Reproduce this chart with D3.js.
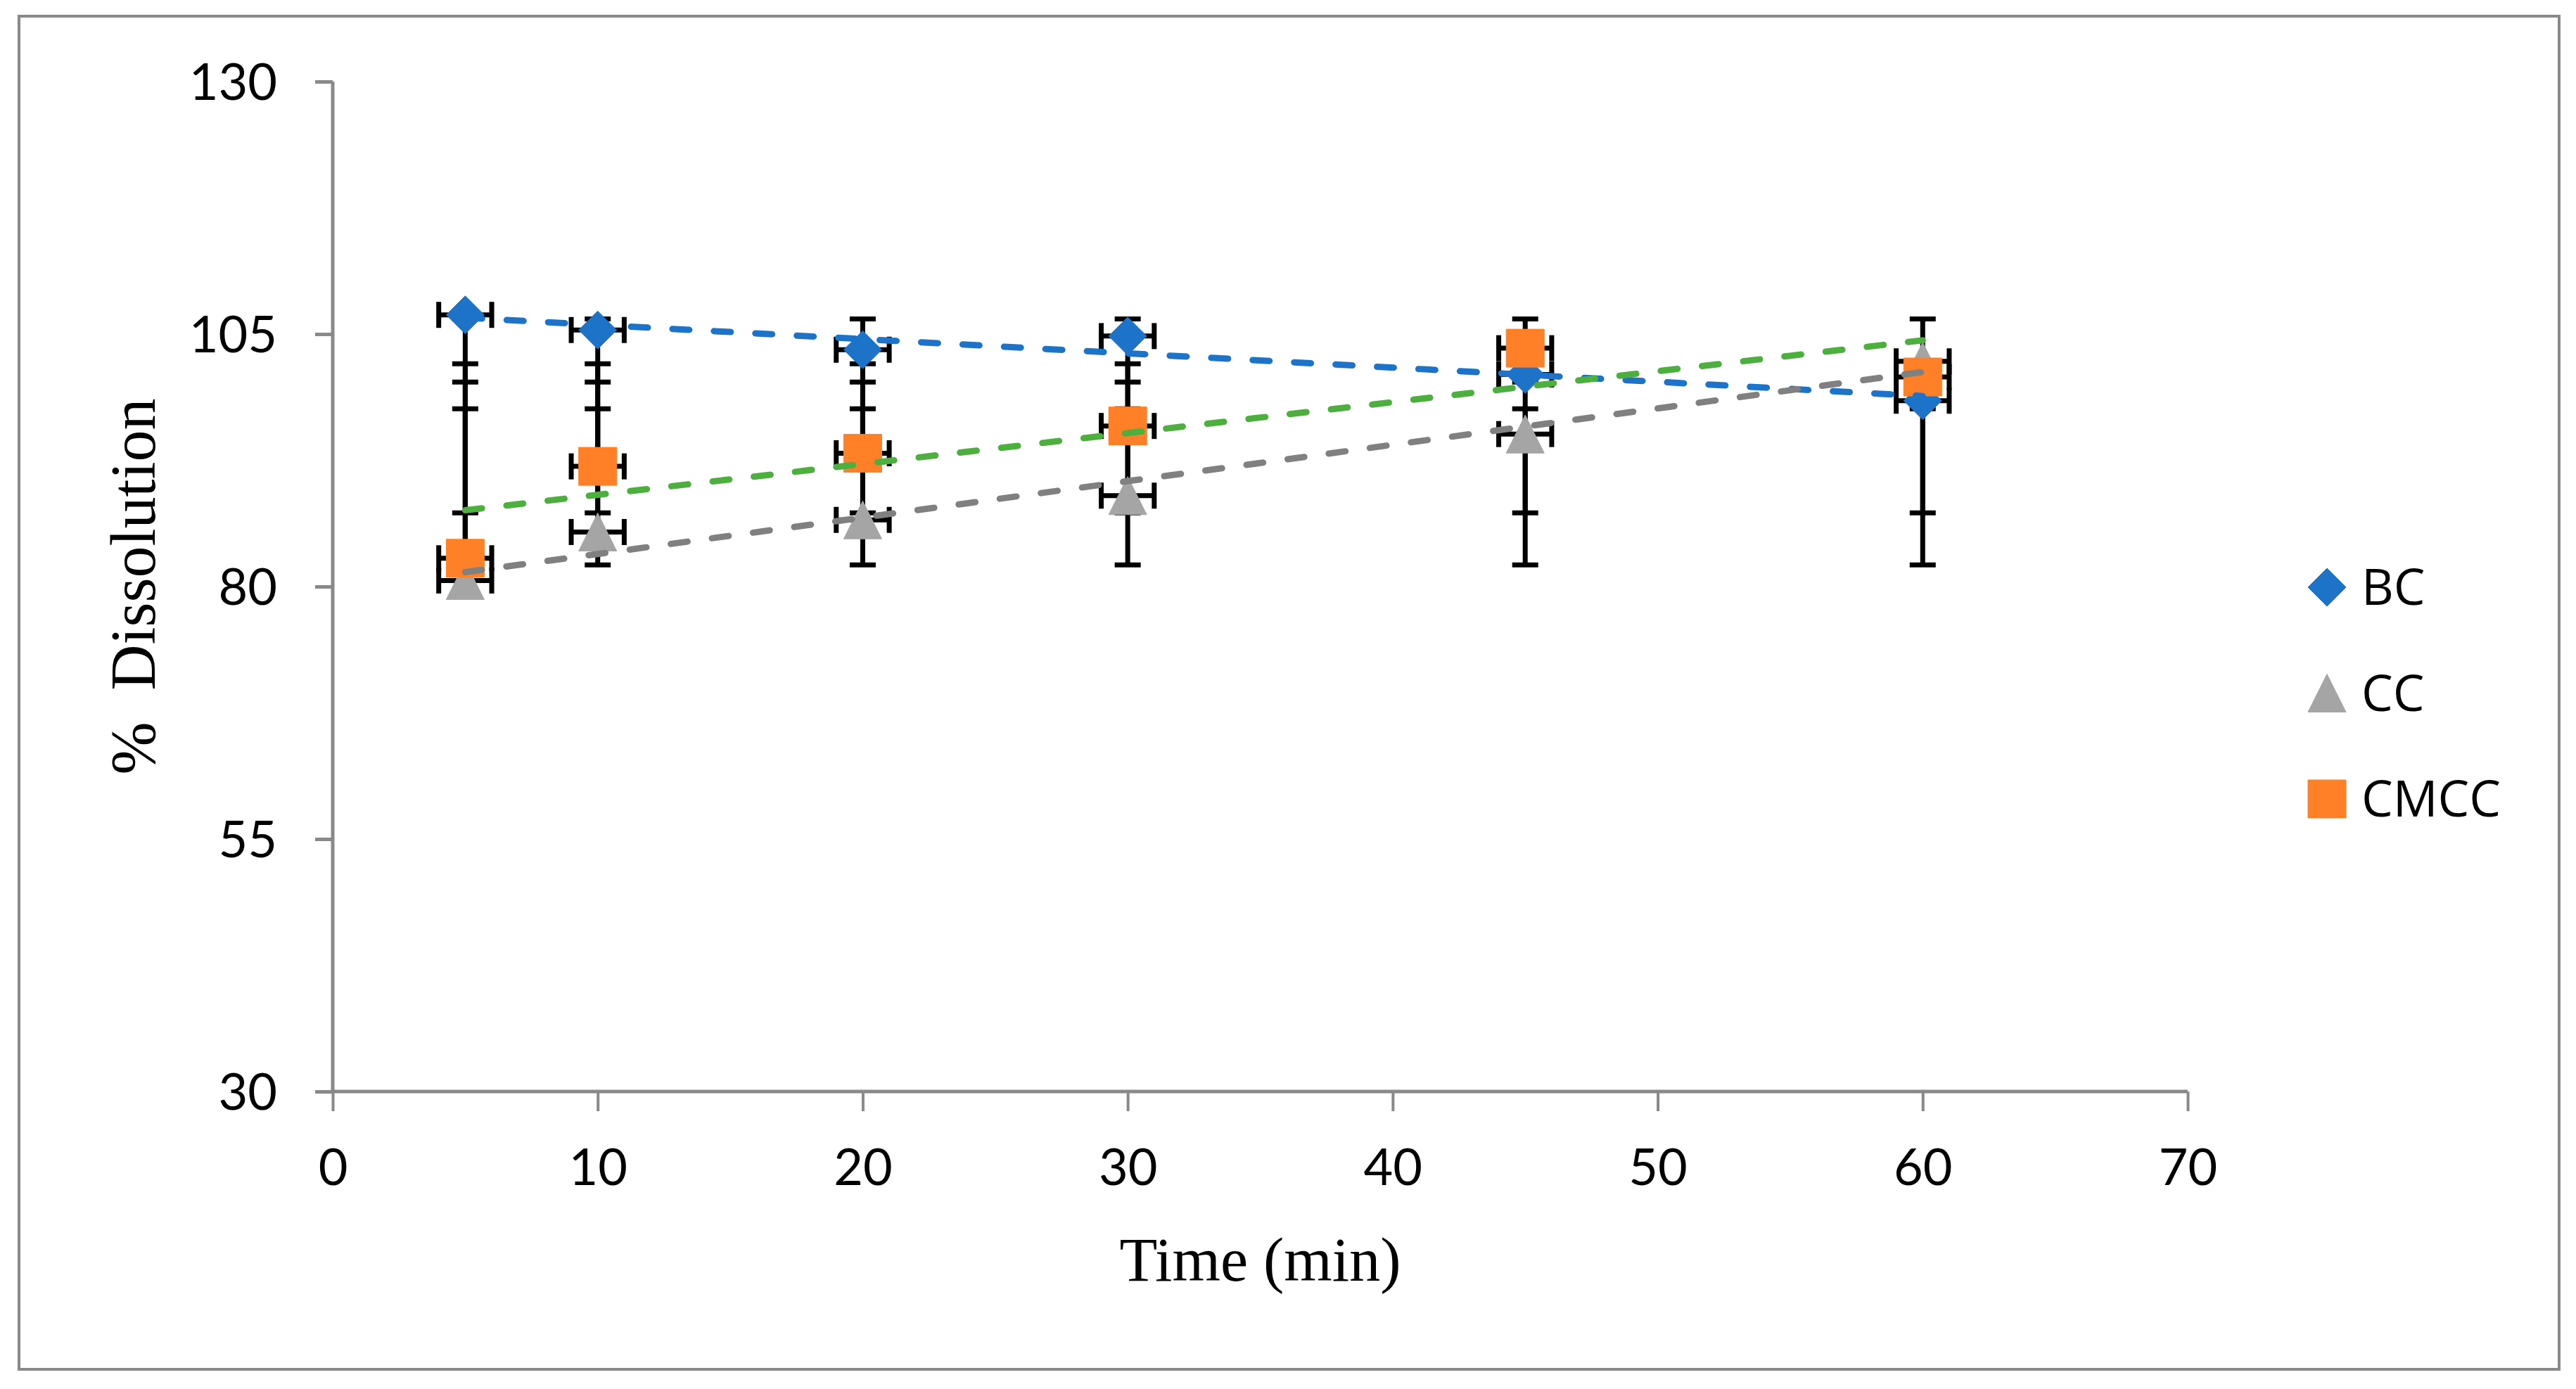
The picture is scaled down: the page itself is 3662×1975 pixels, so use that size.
<!DOCTYPE html>
<html>
<head>
<meta charset="utf-8">
<script src="https://cdn.jsdelivr.net/npm/d3@7"></script>
<style>
  html, body { margin: 0; padding: 0; background: #ffffff; }
  svg { display: block; }
</style>
</head>
<body>
<script>
// ---------------- data ----------------
const times = [5, 10, 20, 30, 45, 60];
const seriesNames = ["BC", "CC", "CMCC"];
const bcValues   = [106.9, 105.4, 103.45, 104.8, 101.0, 98.4];
const ccValues   = [80.6, 85.4, 86.6, 89.0, 95.1, 102.3];
const cmccValues = [82.8, 91.9, 93.2, 95.9, 103.6, 100.75];
// horizontal (time) error, minutes
const timeError = 1;
// vertical error bar extents (absolute % values)
const bcErrLow    = [82.15, 82.15, 82.15, 82.15, 82.15, 82.15];
const bcErrHigh   = [106.5, 106.5, 106.5, 106.5, 106.5, 106.5];
const ccErrLow    = [87.3, 87.3, 87.3, 87.3, 87.3, 87.3];
const ccErrHigh   = [97.6, 97.6, 97.6, 97.6, 97.6, 97.6];
const cmccErrLow  = [100.25, 100.25, 100.25, 100.25, 100.25, 100.25];
const cmccErrHigh = [102.05, 102.05, 102.05, 102.05, 102.05, 102.05];
const xTickValues = [0, 10, 20, 30, 40, 50, 60, 70];
const yTickValues = [30, 55, 80, 105, 130];
const xTitle = "Time (min)";
const yTitle = "%  Dissolution";

// ---------------- layout ----------------
const W = 3662, H = 1975;
const axisColor = "#898989";
const styles = {
  BC:   { fill: "#1C73C7", trend: "#1C73C7", shape: "diamond" },
  CC:   { fill: "#A5A5A5", trend: "#808080", shape: "triangle" },
  CMCC: { fill: "#FF8027", trend: "#4DAF3E", shape: "square" }
};

const series = [
  { name: "BC",   values: bcValues,   lo: bcErrLow,   hi: bcErrHigh },
  { name: "CC",   values: ccValues,   lo: ccErrLow,   hi: ccErrHigh },
  { name: "CMCC", values: cmccValues, lo: cmccErrLow, hi: cmccErrHigh }
];

const svg = d3.select("body").append("svg")
  .attr("width", W).attr("height", H)
  .attr("viewBox", `0 0 ${W} ${H}`);

svg.append("rect").attr("x", 0).attr("y", 0).attr("width", W).attr("height", H).attr("fill", "#fff");
// outer chart frame
svg.append("rect")
  .attr("x", 27).attr("y", 23).attr("width", 3611).attr("height", 1924)
  .attr("fill", "none").attr("stroke", axisColor).attr("stroke-width", 4);

const x = d3.scaleLinear().domain([0, 70]).range([473, 3110]);
const y = d3.scaleLinear().domain([30, 130]).range([1552, 116]);

// ---------------- axes ----------------
const xAxis = d3.axisBottom(x).tickValues(xTickValues).tickSize(28).tickPadding(0).tickFormat(d3.format("d"));
const gx = svg.append("g").attr("transform", `translate(0,${y(30)})`).call(xAxis);
gx.select(".domain").attr("stroke", axisColor).attr("stroke-width", 5).attr("d", `M${x(0)},0H${x(70)}`);
gx.selectAll(".tick line").attr("stroke", axisColor).attr("stroke-width", 4);
gx.selectAll(".tick text")
  .attr("y", 133).attr("dy", 0)
  .attr("font-family", "Lato, 'Liberation Sans', sans-serif")
  .attr("font-size", 72).attr("fill", "#000");

const yAxis = d3.axisLeft(y).tickValues(yTickValues).tickSize(25).tickPadding(0).tickFormat(d3.format("d"));
const gy = svg.append("g").attr("transform", `translate(${x(0)},0)`).call(yAxis);
gy.select(".domain").attr("stroke", axisColor).attr("stroke-width", 5).attr("d", `M0,${y(130)}V${y(30)}`);
gy.selectAll(".tick line").attr("stroke", axisColor).attr("stroke-width", 5);
gy.selectAll(".tick text")
  .attr("x", -79).attr("dy", "0.36em")
  .attr("font-family", "Lato, 'Liberation Sans', sans-serif")
  .attr("font-size", 72).attr("fill", "#000");

// axis titles
svg.append("text")
  .attr("x", (x(0) + x(70)) / 2).attr("y", 1821)
  .attr("text-anchor", "middle")
  .attr("font-family", "'Liberation Serif', 'DejaVu Serif', serif")
  .attr("font-size", 88).attr("fill", "#000")
  .text(xTitle);

svg.append("text")
  .attr("transform", `translate(220,${(y(30) + y(130)) / 2}) rotate(-90)`)
  .attr("text-anchor", "middle")
  .attr("xml:space", "preserve")
  .style("white-space", "pre")
  .attr("font-family", "'Liberation Serif', 'DejaVu Serif', serif")
  .attr("font-size", 90).attr("fill", "#000")
  .text(yTitle);

// ---------------- error bars ----------------
const capHalf = 18.5;
const eb = svg.append("g").attr("stroke", "#000").attr("stroke-width", 7).attr("fill", "none");
series.forEach(s => {
  times.forEach((t, i) => {
    const cx = x(t), cy = y(s.values[i]);
    // vertical
    const yLo = y(s.lo[i]), yHi = y(s.hi[i]);
    eb.append("line").attr("x1", cx).attr("x2", cx).attr("y1", Math.max(yLo, cy)).attr("y2", Math.min(yHi, cy));
    eb.append("line").attr("x1", cx - capHalf).attr("x2", cx + capHalf).attr("y1", yLo).attr("y2", yLo);
    eb.append("line").attr("x1", cx - capHalf).attr("x2", cx + capHalf).attr("y1", yHi).attr("y2", yHi);
    // horizontal
    const xl = x(t - timeError), xr = x(t + timeError);
    eb.append("line").attr("x1", xl).attr("x2", xr).attr("y1", cy).attr("y2", cy);
    eb.append("line").attr("x1", xl).attr("x2", xl).attr("y1", cy - capHalf).attr("y2", cy + capHalf);
    eb.append("line").attr("x1", xr).attr("x2", xr).attr("y1", cy - capHalf).attr("y2", cy + capHalf);
  });
});

// ---------------- markers ----------------
function markerPath(shape, cx, cy, r) {
  if (shape === "diamond") return `M${cx},${cy - r}L${cx + r},${cy}L${cx},${cy + r}L${cx - r},${cy}Z`;
  if (shape === "triangle") return `M${cx},${cy - r}L${cx + r},${cy + r}L${cx - r},${cy + r}Z`;
  return `M${cx - r},${cy - r}H${cx + r}V${cy + r}H${cx - r}Z`;
}
const mk = svg.append("g");
series.forEach(s => {
  const st = styles[s.name];
  mk.selectAll(null).data(times.map((t, i) => ({ t, v: s.values[i] }))).enter()
    .append("path")
    .attr("d", d => markerPath(st.shape, x(d.t), y(d.v), 27))
    .attr("fill", st.fill)
    .attr("stroke", st.fill).attr("stroke-width", 1).attr("stroke-linejoin", "round");
});

// ---------------- linear trendlines ----------------
function linReg(xs, ys) {
  const mx = d3.mean(xs), my = d3.mean(ys);
  let sxy = 0, sxx = 0;
  xs.forEach((xv, i) => { sxy += (xv - mx) * (ys[i] - my); sxx += (xv - mx) * (xv - mx); });
  const b = sxy / sxx;
  return v => my + b * (v - mx);
}
const line = d3.line().x(d => x(d[0])).y(d => y(d[1]));
const tminmax = d3.extent(times);
series.forEach(s => {
  const f = linReg(times, s.values);
  svg.append("path")
    .attr("d", line(tminmax.map(t => [t, f(t)])))
    .attr("fill", "none")
    .attr("stroke", styles[s.name].trend)
    .attr("stroke-width", 9)
    .attr("stroke-linecap", "round")
    .attr("stroke-dasharray", "24,35");
});

// ---------------- legend ----------------
const lg = svg.append("g");
seriesNames.forEach((name, i) => {
  const cy = 835 + i * 150.5;
  const st = styles[name];
  lg.append("path").attr("d", markerPath(st.shape, 3308, cy, 27)).attr("fill", st.fill)
    .attr("stroke", st.fill).attr("stroke-width", 1);
  lg.append("text").attr("x", 3357).attr("y", cy + 25)
    .attr("font-family", "'Open Sans', 'Noto Sans', sans-serif")
    .attr("font-size", 71).attr("fill", "#000")
    .text(name);
});
</script>
</body>
</html>
